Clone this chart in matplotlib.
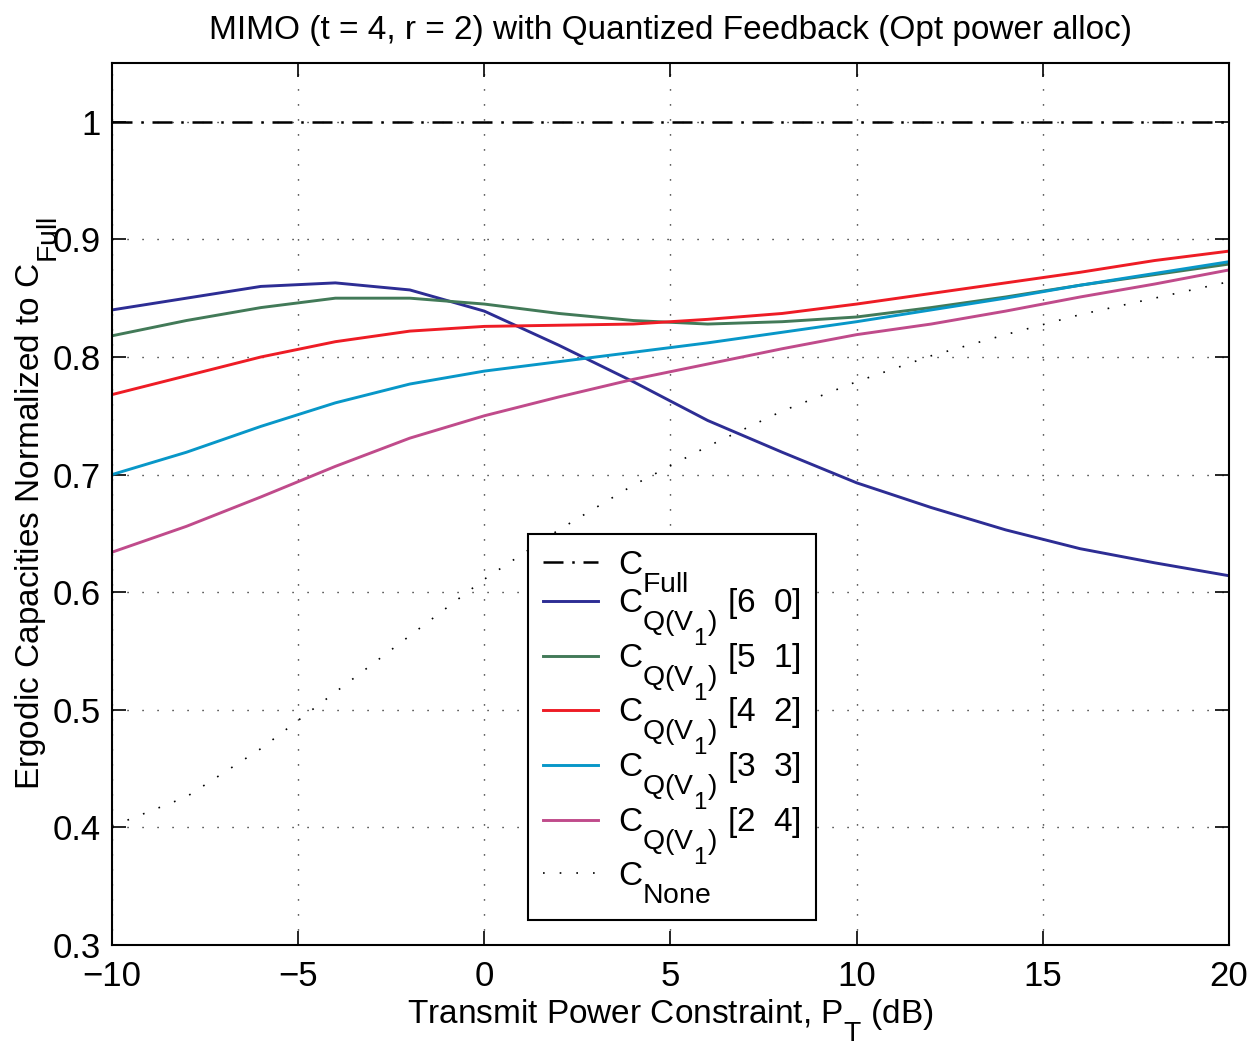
import matplotlib
matplotlib.use("Agg")
import matplotlib.pyplot as plt
import matplotlib._mathtext as mtext

plt.rcParams['font.family'] = ['Liberation Sans', 'DejaVu Sans']
plt.rcParams['mathtext.fontset'] = 'custom'
plt.rcParams['mathtext.rm'] = 'Liberation Sans'
plt.rcParams['mathtext.it'] = 'Liberation Sans:italic'
plt.rcParams['mathtext.bf'] = 'Liberation Sans:bold'

# matlab-like subscripts: bigger and dropped lower
try:
    mtext.SHRINK_FACTOR = 0.85
    mtext.FontConstantsBase.sub1 = 1.0
except AttributeError:
    pass

# transmit power (dB)
p_db = [-10, -8, -6, -4, -2, 0, 2, 4, 6, 8, 10, 12, 14, 16, 18, 20]

# normalized ergodic capacities
c_full = [1.0] * len(p_db)
c_60 = [0.840, 0.850, 0.860, 0.863, 0.857, 0.839, 0.810, 0.779, 0.746, 0.719,
        0.693, 0.672, 0.653, 0.637, 0.625, 0.614]
c_51 = [0.818, 0.831, 0.842, 0.850, 0.850, 0.845, 0.837, 0.831, 0.828, 0.830,
        0.834, 0.842, 0.851, 0.861, 0.870, 0.879]
c_42 = [0.768, 0.784, 0.800, 0.813, 0.822, 0.826, 0.827, 0.828, 0.832, 0.837,
        0.845, 0.854, 0.863, 0.872, 0.882, 0.890]
c_33 = [0.700, 0.719, 0.741, 0.761, 0.777, 0.788, 0.796, 0.804, 0.812, 0.821,
        0.830, 0.840, 0.850, 0.861, 0.871, 0.881]
c_24 = [0.634, 0.656, 0.681, 0.707, 0.731, 0.750, 0.766, 0.781, 0.794, 0.807,
        0.819, 0.828, 0.839, 0.851, 0.862, 0.874]
c_none = [0.401, 0.426, 0.467, 0.515, 0.563, 0.611, 0.653, 0.691, 0.724, 0.754,
          0.779, 0.801, 0.819, 0.836, 0.850, 0.864]

x_ticks = [-10, -5, 0, 5, 10, 15, 20]
x_tick_labels = ['\u221210', '\u22125', '0', '5', '10', '15', '20']
y_ticks = [0.3, 0.4, 0.5, 0.6, 0.7, 0.8, 0.9, 1.0]
y_tick_labels = ['0.3', '0.4', '0.5', '0.6', '0.7', '0.8', '0.9', '1']

FS = 24
cq = r'$\mathrm{C}_{\mathrm{Q(V}_{1}\mathrm{)}}$'

fig = plt.figure(figsize=(12.51, 10.44), dpi=100)
ax = fig.add_axes([0.0895, 0.0948, 0.8929, 0.8449])

ax.plot(p_db, c_full, color='black', lw=1.8, dashes=(8, 3.5, 1, 3.5),
        label=r'$\mathrm{C}_{\mathrm{Full}}$')
ax.plot(p_db, c_60, color='#2d2d94', lw=2.1, label=cq + ' [6  0]')
ax.plot(p_db, c_51, color='#427a58', lw=2.1, label=cq + ' [5  1]')
ax.plot(p_db, c_42, color='#ee1c25', lw=2.1, label=cq + ' [4  2]')
ax.plot(p_db, c_33, color='#0897c8', lw=2.1, label=cq + ' [3  3]')
ax.plot(p_db, c_24, color='#c04b8b', lw=2.1, label=cq + ' [2  4]')
ax.plot(p_db, c_none, color='black', lw=1.2, dashes=(1, 9),
        label=r'$\mathrm{C}_{\mathrm{None}}$')

ax.set_xlim(-10, 20)
ax.set_ylim(0.3, 1.05)
ax.set_xticks(x_ticks)
ax.set_xticklabels(x_tick_labels)
ax.set_yticks(y_ticks)
ax.set_yticklabels(y_tick_labels)
ax.tick_params(direction='in', length=10, width=1.2, labelsize=25,
               top=True, right=True, pad=8)
ax.tick_params(axis='x', pad=11)

ax.grid(True, color='black', lw=1.0, linestyle=(0, (0.8, 10)))
for s in ax.spines.values():
    s.set_linewidth(1.5)

ax.set_title('MIMO (t = 4, r = 2) with Quantized Feedback (Opt power alloc)',
             fontsize=FS, pad=17)
ax.set_xlabel(r'Transmit Power Constraint, $\mathrm{P}_{\mathrm{T}}$ (dB)',
              fontsize=FS, labelpad=3)
ax.set_ylabel(r'Ergodic Capacities Normalized to $\mathrm{C}_{\mathrm{Full}}$',
              fontsize=FS)
ax.yaxis.set_label_coords(-0.047, 0.5)

leg = ax.legend(loc='lower left', bbox_to_anchor=(0.3724, 0.0283),
                borderaxespad=0, fontsize=FS, handlelength=1.65,
                handletextpad=0.6, labelspacing=-0.2, borderpad=0.45,
                fancybox=False, framealpha=1, edgecolor='black')
leg.get_frame().set_linewidth(1.5)

fig.savefig('out.png', dpi=100)
